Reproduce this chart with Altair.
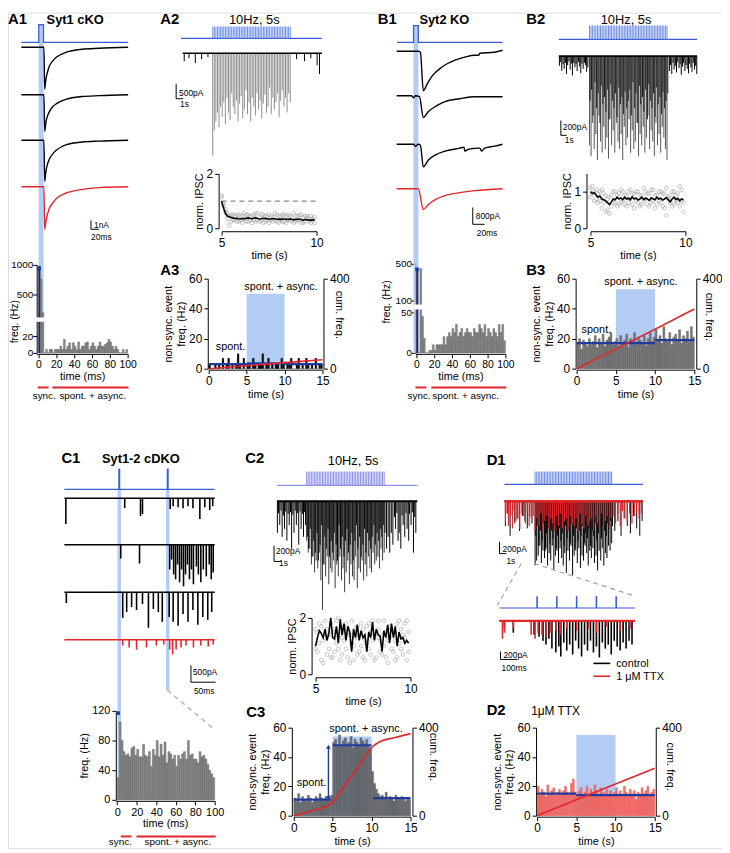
import altair as alt
import pandas as pd

W, H, M = 722, 845, 8
FONT = "Liberation Sans"
ONE = pd.DataFrame({"k": [0]})

STIM = "#3a5bd3"
PULSE = "#6d8de4"
PURP = "#8e90e8"
BAND = "#abc7f4"
RED = "#e1262c"
NAVY = "#213b9c"
BAR = "#8b8b8b"
BARE = "#505050"
TTXC = "#f26e6b"

# ------------------------------------------------------------------ data
# A1 (Syt1 cKO) traces: time (ms) vs current (nA)
A1_T = [-50, 0, 7, 9, 12, 16, 21, 30, 39, 64, 104, 146, 220]
A1_TR1 = [0, 0, 0, -4.7, -3.6, -2.8, -2.1, -1.5, -1.1, -0.55, -0.22, -0.11, 0]
A1_TR2 = [0, 0, 0, -4.1, -3.1, -2.4, -1.9, -1.3, -1.0, -0.5, -0.2, -0.1, 0]
A1_TR3 = [0, 0, 0, -4.6, -3.5, -2.7, -2.1, -1.5, -1.1, -0.5, -0.2, -0.1, 0]
A1_RED = [0, 0, 0, -4.8, -3.9, -3.1, -2.4, -1.8, -1.3, -0.7, -0.3, -0.1, 0]
A1_STIM_T = [-50, -6, -6, 6, 6, 220]
STIM_V = [0, 0, 1, 1, 0, 0]
A1_HIST = [980, 760, 290, 0, 4, 0, 4, 4, 0, 4, 4, 4, 8, 4, 16, 4, 8, 12, 4, 12,
           8, 4, 13, 4, 8, 8, 12, 13, 4, 8, 12, 8, 4, 8, 13, 8, 8, 10, 12, 16,
           13, 8, 4, 8, 4, 0, 0, 4, 0, 4]

# B1 (Syt2 KO) traces: time (ms) vs current (pA)
B1_STIM_T = [-32, -4, -4, 4, 4, 146]
B1_T1 = [-32.5, 4, 7.5, 12.5, 19, 27.5, 44, 66, 82.5, 99, 106, 107.5, 132.5, 146]
B1_TR1 = [0, 0, -47, -1880, -1550, -1175, -750, -425, -280, -190, -190, -95, -47, 47]
B1_T2 = [-32.5, -7.5, -4, -1, 6, 12.5, 21, 32.5, 49, 74, 99, 146]
B1_TR2 = [0, 0, -94, 0, -47, -1034, -752, -517, -282, -141, -47, -47]
B1_T3 = [-32.5, -4, -1, 4, 7.5, 12.5, 21, 32.5, 49, 74, 81, 82.5, 89, 107.5, 111, 116, 132.5, 146]
B1_TR3 = [0, 0, -94, 0, -47, -1081, -752, -517, -329, -188, -141, -329, -235, -188, -329, -188, -94, 0]
B1_T4 = [-32.5, 4, 12.5, 21, 32.5, 49, 74, 99, 146]
B1_RED = [0, 0, -987, -752, -517, -329, -188, -94, 0]
B1_HIST = [440, 0, 450, 45, 18, 0, 0, 3, 3, 10, 3, 10, 10, 10, 10, 20, 10, 20, 25, 20,
           30, 25, 35, 20, 25, 30, 20, 25, 30, 25, 25, 20, 30, 25, 25, 35, 30, 25, 35, 20,
           30, 25, 20, 30, 25, 20, 35, 25, 35, 15]

# C1 (Syt1-2 cDKO) events: time (ms), amplitude (pA)
C1_TR1_T = [-108, 11, 43, 47, 103, 109, 119, 129, 139, 149, 163, 173, 183, 189]
C1_TR1_A = [765, 294, 530, 470, 320, 235, 265, 294, 235, 294, 617, 265, 353, 235]
C1_TR2_T = [3, 41, 102, 106, 110, 114, 118, 122, 126, 130, 134, 138, 142, 146, 150, 156,
            160, 165, 170, 176, 182, 186, 190]
C1_TR2_A = [412, 560, 735, 441, 882, 1029, 588, 1117, 735, 1235, 882, 588, 1029, 735, 1176,
            647, 882, 1117, 735, 941, 588, 1029, 823]
C1_TR3_T = [-107, 7, 15, 25, 35, 47, 59, 69, 79, 87, 101, 109, 119, 129, 139, 149, 159, 169, 179, 187]
C1_TR3_A = [323, 764, 588, 441, 529, 353, 1058, 500, 588, 882, 735, 882, 1000, 647, 882, 529,
            970, 735, 823, 588]
C1_RED_T = [7, 20, 35, 55, 75, 90, 102, 108, 115, 125, 135, 150, 165, 180, 190]
C1_RED_A = [176, 235, 294, 235, 176, 147, 294, 441, 294, 235, 176, 235, 176, 206, 147]
C1_HIST = [30, 105, 80, 65, 60, 62, 58, 70, 72, 60, 68, 58, 58, 75, 60, 58, 65, 45, 68, 60,
           80, 58, 75, 60, 78, 50, 65, 62, 55, 60, 45, 60, 55, 62, 65, 55, 80, 60, 62, 55,
           55, 50, 65, 58, 60, 55, 48, 40, 35, 30]

# 10 Hz, 5 s trains: evoked amplitudes (pA), one per stimulus
A2_EVOKED = [3450, 2600, 2300, 2000, 2500, 1800, 2150, 1650, 2400, 1500,
             2000, 2250, 1350, 1800, 2050, 1600, 2300, 1700, 1450, 2200,
             1900, 1250, 2050, 1650, 2300, 1500, 1800, 2100, 1350, 1900,
             1600, 2200, 1700, 1400, 2000, 1800, 1150, 2050, 1500, 1900,
             1650, 1350, 2150, 1600, 1250, 1800, 1500, 2000, 1350, 1650]
A2_SPONT_T = [3.2, 3.5, 3.9, 4.3, 4.7, 10.3, 10.8, 11.2, 11.6, 11.75]
A2_SPONT_A = [270, 170, 330, 200, 130, 200, 270, 170, 400, 700]

B2_EVOKED = [1200, 1350, 900, 1250, 1050, 1400, 800, 1150, 1300, 950,
             1250, 1100, 1380, 850, 1200, 1000, 1300, 900, 1150, 1250,
             1050, 1400, 950, 1200, 1100, 850, 1300, 1000, 1250, 1150,
             900, 1350, 1050, 1200, 950, 1300, 1100, 800, 1250, 1000,
             1150, 1350, 900, 1200, 1050, 1300, 950, 1100, 1250, 1400]
B2_SPONT_T = [3.1, 3.18, 3.25, 3.33, 3.4, 3.48, 3.55, 3.62, 3.7, 3.78, 3.85, 3.92, 4.0,
              4.08, 4.15, 4.22, 4.3, 4.38, 4.45, 4.52, 4.6, 4.68, 4.75, 4.82, 4.9,
              10.05, 10.12, 10.2, 10.28, 10.35, 10.43, 10.5, 10.58, 10.66, 10.73, 10.8,
              10.88, 10.95, 11.03, 11.1, 11.18, 11.26, 11.33, 11.41, 11.48, 11.56, 11.64,
              11.71, 11.78]
B2_SPONT_A = [130, 80, 200, 110, 170, 90, 240, 120, 70, 180, 100, 260, 90, 150, 110, 200,
              80, 140, 230, 100, 170, 90, 120, 210, 150,
              200, 120, 240, 90, 180, 130, 220, 80, 160, 110, 250, 140, 90, 200, 120, 170,
              230, 100, 150, 210, 90, 180, 130, 240]
TRAIN_ASYNC_T = [5.04, 5.13, 5.23, 5.34, 5.45, 5.55, 5.66, 5.74, 5.85, 5.95, 6.04, 6.15, 6.24,
                 6.35, 6.44, 6.55, 6.65, 6.74, 6.86, 6.95, 7.05, 7.14, 7.25, 7.36, 7.45, 7.55,
                 7.64, 7.75, 7.86, 7.94, 8.05, 8.15, 8.24, 8.35, 8.44, 8.55, 8.66, 8.75, 8.84,
                 8.95, 9.05, 9.14, 9.25, 9.34, 9.45, 9.56, 9.65, 9.75, 9.84, 9.95]
B2_ASYNC_A = [600, 450, 800, 350, 700, 500, 900, 400, 650, 550, 750, 450, 850, 380, 600,
              700, 500, 820, 420, 650, 550, 780, 480, 700, 600, 450, 800, 350, 700, 500,
              900, 400, 650, 550, 750, 450, 850, 380, 600, 700, 500, 820, 420, 650, 550,
              780, 480, 700, 600, 500]

C2_EVOKED = [500, 650, 600, 800, 700, 900, 750, 850, 650, 1000,
             1375, 800, 950, 700, 1050, 850, 900, 750, 1100, 800,
             950, 700, 1000, 850, 1150, 900, 750, 1050, 800, 950,
             1000, 700, 1100, 850, 900, 750, 1000, 800, 950, 700,
             850, 900, 650, 800, 750, 700, 850, 600, 750, 650]
C2_ASYNC_A = [450, 600, 350, 700, 500, 650, 400, 750, 550, 300, 800, 450, 600, 350, 700,
              500, 650, 400, 550, 750, 300, 600, 450, 700, 500, 350, 650, 550, 400, 750,
              500, 300, 600, 450, 700, 550, 350, 650, 400, 500, 600, 450, 300, 550, 400,
              500, 350, 450, 300, 400]
C2_SPONT_T = [3.15, 3.22, 3.3, 3.38, 3.45, 3.53, 3.6, 3.68, 3.75, 3.83, 3.9, 3.98, 4.05,
              4.13, 4.2, 4.28, 4.35, 4.43, 4.5, 4.58, 4.65, 4.73, 4.8, 4.87, 4.93,
              10.05, 10.15, 10.25, 10.35, 10.45, 10.55, 10.62, 10.7, 10.78, 10.85, 10.95,
              11.03, 11.1, 11.2, 11.28, 11.35, 11.45, 11.5, 11.6, 11.68, 11.75, 11.83, 11.9]
C2_SPONT_A = [400, 150, 300, 120, 450, 180, 350, 130, 500, 160, 300, 140, 600, 170, 400,
              120, 300, 150, 550, 130, 350, 160, 450, 140, 300,
              600, 450, 650, 400, 550, 200, 350, 150, 500, 400, 600, 180, 300, 450, 150,
              350, 500, 160, 300, 140, 650, 200, 400]

D1_EVOKED = [1300, 1200, 1100, 900, 1250, 1000, 1150, 950, 1300, 1050,
             1200, 900, 1400, 1100, 1000, 1250, 950, 1150, 1300, 1050,
             1450, 1000, 1200, 900, 1500, 1100, 1000, 1250, 950, 1350,
             1100, 1200, 900, 1050, 1300, 1000, 1150, 950, 1250, 1100,
             1400, 1000, 1200, 950, 1300, 1050, 1150, 900, 1000, 850]
D1_ASYNC_A = [700, 500, 900, 600, 800, 450, 1000, 650, 550, 850, 600, 750, 500, 950, 700,
              550, 800, 650, 900, 500, 750, 600, 850, 450, 700, 950, 550, 800, 600, 700,
              500, 850, 650, 750, 550, 900, 600, 700, 450, 800, 650, 550, 750, 500, 600,
              700, 450, 550, 400, 500]
D1_SPONT_T = [3.1, 3.25, 3.4, 3.55, 3.7, 3.85, 4.0, 4.2, 4.35, 4.5, 4.65, 4.8,
              10.1, 10.3, 10.5, 10.7, 10.9, 11.1, 11.3, 11.5, 11.7, 11.85]
D1_SPONT_A = [500, 250, 700, 300, 450, 350, 600, 300, 400, 550, 300, 450,
              600, 400, 700, 350, 500, 650, 300, 550, 700, 400]
D1_TTX_T = [3.1, 3.2, 3.3, 3.42, 3.55, 3.65, 3.78, 3.9, 4.02, 4.15, 4.25, 4.38, 4.5, 4.62,
            4.75, 4.88, 5.0, 5.12, 5.25, 5.38, 5.5, 5.62, 5.75, 5.88, 6.0, 6.12, 6.25, 6.38,
            6.5, 6.62, 6.75, 6.88, 7.0, 7.12, 7.25, 7.38, 7.5, 7.62, 7.75, 7.88, 8.0, 8.12,
            8.25, 8.38, 8.5, 8.62, 8.75, 8.88, 9.0, 9.12, 9.25, 9.38, 9.5, 9.62, 9.75, 9.88,
            10.0, 10.15, 10.3, 10.45, 10.6, 10.75, 10.9, 11.05, 11.2, 11.35, 11.5, 11.65, 11.8]
D1_TTX_A = [450, 250, 500, 300, 550, 200, 400, 350, 560, 250, 300, 450, 200, 500, 350, 300,
            600, 350, 500, 250, 620, 400, 300, 550, 350, 450, 600, 300, 500, 250, 550, 400,
            350, 600, 300, 450, 500, 350, 600, 250, 450, 550, 300, 500, 400, 350, 600, 300,
            450, 550, 250, 500, 400, 300, 550, 350,
            300, 450, 250, 500, 200, 350, 400, 250, 450, 300, 200, 350, 250]
# D1 expanded view: time (ms) from first stimulus, amplitude (pA)
D1Z_CTRL_T = [-165, -120, -15, 10, 30, 45, 60, 75, 95, 110, 120, 135, 150, 165, 180, 195,
              210, 225, 240, 255, 270, 285, 300, 315, 330, 345, 360, 375, 390, 405, 420,
              435, 450, 465, 480]
D1Z_CTRL_A = [200, 300, 350, 400, 500, 600, 450, 700, 800, 650, 900, 550, 750, 600, 850,
              500, 700, 900, 600, 750, 500, 800, 650, 925, 550, 700, 600, 850, 500, 650,
              750, 550, 700, 500, 600]
D1Z_TTX_T = [-175, -165, -120, -30, -10, 5, 25, 45, 70, 95, 120, 150, 200, 260, 300, 350, 420, 470]
D1Z_TTX_A = [450, 300, 200, 350, 450, 300, 350, 400, 300, 250, 350, 200, 250, 200, 300, 150, 250, 200]

# normalised IPSC (one value per stimulus, 5-10 s)
A2_MEAN = [1.0, 0.75, 0.55, 0.45, 0.42, 0.40, 0.38, 0.36, 0.37, 0.35, 0.34, 0.36, 0.35,
           0.37, 0.38, 0.36, 0.35, 0.37, 0.39, 0.36, 0.34, 0.35, 0.37, 0.36, 0.35, 0.33,
           0.34, 0.36, 0.35, 0.33, 0.34, 0.32, 0.35, 0.34, 0.33, 0.32, 0.34, 0.33, 0.31,
           0.33, 0.32, 0.34, 0.31, 0.30, 0.32, 0.31, 0.30, 0.29, 0.31, 0.30]
A2_S1 = [1.15, 0.9, 0.6, 0.55, 0.45, 0.5, 0.3, 0.45, 0.25, 0.5, 0.3, 0.45, 0.55, 0.25, 0.5,
         0.3, 0.45, 0.5, 0.25, 0.55, 0.4, 0.3, 0.5, 0.25, 0.45, 0.5, 0.3, 0.4, 0.55, 0.25,
         0.45, 0.3, 0.5, 0.25, 0.45, 0.5, 0.3, 0.4, 0.55, 0.25, 0.45, 0.3, 0.5, 0.2, 0.45,
         0.35, 0.25, 0.45, 0.35, 0.2]
A2_S2 = [1.2, 0.85, 0.7, 0.35, 0.1, 0.25, 0.5, 0.3, 0.5, 0.25, 0.45, 0.2, 0.35, 0.5, 0.25,
         0.45, 0.2, 0.3, 0.55, 0.3, 0.25, 0.5, 0.2, 0.45, 0.3, 0.2, 0.45, 0.25, 0.3, 0.5,
         0.2, 0.45, 0.25, 0.5, 0.2, 0.3, 0.45, 0.25, 0.2, 0.45, 0.3, 0.5, 0.2, 0.4, 0.25,
         0.45, 0.4, 0.2, 0.3, 0.4]
B2_MEAN = [1.0, 0.95, 0.97, 0.9, 0.85, 0.88, 0.8, 0.78, 0.75, 0.7, 0.65, 0.72, 0.8, 0.78,
           0.85, 0.8, 0.83, 0.78, 0.85, 0.8, 0.82, 0.78, 0.86, 0.8, 0.83, 0.77, 0.8, 0.85,
           0.78, 0.82, 0.8, 0.76, 0.83, 0.8, 0.78, 0.85, 0.8, 0.82, 0.77, 0.8, 0.84, 0.78,
           0.72, 0.8, 0.85, 0.78, 0.82, 0.75, 0.8, 0.78]
B2_S1 = [1.1, 0.95, 1.0, 0.8, 0.95, 0.75, 1.05, 0.7, 0.9, 0.5, 0.85, 0.6, 1.0, 0.7, 0.9,
         0.65, 1.05, 0.75, 0.9, 0.6, 1.0, 0.8, 0.95, 0.55, 1.0, 0.7, 0.9, 0.65, 1.1, 0.8,
         0.95, 0.6, 1.05, 0.75, 0.9, 0.65, 1.0, 0.7, 0.95, 0.55, 1.1, 0.8, 0.9, 0.6, 1.0,
         0.75, 0.95, 0.6, 1.05, 0.7]
B2_S2 = [0.85, 1.15, 0.75, 1.05, 0.7, 1.0, 0.55, 0.95, 0.45, 0.8, 0.4, 0.9, 0.7, 1.0, 0.6,
         0.95, 0.7, 1.0, 0.65, 0.9, 0.7, 1.05, 0.65, 0.95, 0.75, 1.0, 0.6, 0.9, 0.75, 1.0,
         0.65, 0.95, 0.7, 1.05, 0.55, 0.9, 0.75, 1.0, 0.6, 0.95, 0.35, 0.85, 0.7, 1.0, 0.65,
         0.9, 0.7, 1.15, 0.75, 0.45]
C2_MEAN = [1.0, 1.3, 1.55, 1.45, 1.3, 1.6, 1.2, 1.45, 2.0, 1.3, 1.25, 1.7, 1.1, 1.95, 1.4,
           1.8, 1.2, 1.7, 1.5, 0.8, 1.6, 1.3, 1.75, 1.2, 1.55, 1.3, 1.4, 0.8, 1.5, 1.3, 1.85,
           1.2, 1.6, 1.4, 1.35, 0.8, 1.55, 1.3, 1.75, 1.1, 1.8, 1.3, 1.7, 1.0, 1.5, 1.25,
           1.3, 1.1, 1.2, 1.1]
C2_S1 = [0.9, 1.5, 1.8, 0.5, 1.2, 1.9, 0.7, 1.4, 1.8, 0.6, 1.6, 1.1, 2.0, 0.5, 1.3, 1.7,
         0.9, 1.5, 0.4, 1.9, 1.0, 1.6, 0.7, 1.4, 1.8, 0.6, 1.2, 1.7, 0.9, 1.5, 1.9, 0.5, 1.3,
         1.6, 0.8, 1.4, 1.9, 0.6, 1.2, 1.7, 0.9, 1.5, 0.5, 1.8, 1.1, 1.6, 0.7, 1.3, 1.9, 0.8]
C2_S2 = [1.6, 0.8, 1.1, 1.7, 0.4, 1.3, 1.6, 0.9, 0.6, 1.5, 0.8, 1.9, 0.9, 1.4, 0.7, 1.2,
         1.8, 0.6, 1.4, 1.1, 0.5, 1.3, 1.7, 0.8, 1.0, 1.6, 0.5, 1.1, 1.8, 0.7, 1.2, 1.4, 0.6,
         1.9, 1.2, 0.7, 1.0, 1.5, 0.4, 1.3, 1.6, 0.8, 1.2, 0.6, 1.9, 0.9, 1.4, 1.8, 0.5, 1.5]

# non-synchronous event frequency (Hz), 0.25 s bins over 0-15 s
A3_HIST = [3, 0, 0, 3, 0, 3, 0, 7, 0, 3, 7, 0, 3, 0, 3, 10, 3, 0, 7, 0,
           3, 3, 0, 7, 3, 0, 3, 3, 10, 0, 3, 7, 0, 3, 0, 3, 3, 0, 7, 3,
           0, 3, 3, 7, 0, 0, 3, 7, 0, 3, 0, 7, 3, 0, 3, 0, 7, 0, 3, 3]
B3_HIST = [17, 20, 13, 19, 17, 15, 20, 16, 18, 22, 14, 20, 17, 23, 15, 19, 21, 24, 16, 18,
           20, 15, 22, 17, 19, 23, 14, 20, 18, 24, 16, 21, 19, 17, 22, 15, 20, 24, 18, 21,
           26, 19, 22, 17, 28, 20, 18, 24, 16, 21, 23, 19, 26, 17, 22, 20, 25, 18, 28, 21]
C3_HIST = [12, 10, 15, 9, 13, 11, 10, 14, 12, 9, 11, 13, 10, 15, 12, 10, 13, 11, 12, 14,
           50, 52, 48, 55, 47, 51, 53, 49, 50, 54, 46, 52, 50, 48, 53, 51, 49, 52, 47, 46,
           30, 22, 18, 15, 13, 14, 12, 16, 11, 13, 12, 10, 14, 12, 11, 13, 12, 10, 12, 11]
D2_HIST = [20, 14, 18, 16, 13, 21, 15, 17, 19, 14, 16, 18, 15, 17, 20, 16, 14, 22, 25, 16,
           14, 17, 19, 13, 16, 20, 15, 18, 14, 21, 17, 13, 19, 16, 15, 18, 14, 17, 13, 16,
           19, 15, 17, 14, 20, 16, 13, 18, 15, 17, 11, 16, 14, 19, 15, 17, 20, 14, 16, 18]
# mean levels (start s, end s, Hz)
A3_LEVELS = [(0, 5, 3), (5, 10, 3.5), (10, 15, 3)]
B3_LEVELS = [(0, 5, 17), (5, 10, 17), (10, 15, 19)]
C3_LEVELS = [(0, 4.7, 11), (5, 10, 48), (10.2, 15, 12)]
D2_LEVELS = [(0, 5, 15), (5, 15, 14)]
# cumulative frequency (time s, count)
A3_CUM_T, A3_CUM = [0, 5, 10, 15], [0, 13, 27, 40]
B3_CUM_T, B3_CUM = [0, 5, 10, 15], [0, 88, 175, 265]
C3_CUM_T = [0, 2.5, 4.8, 6, 7.5, 9, 10, 11, 13, 15]
C3_CUM = [0, 25, 55, 110, 185, 260, 310, 335, 355, 373]
D2_CUM_T, D2_CUM = [0, 5, 10, 15], [0, 72, 144, 216]
TRAIN_TOP = {"A3": 50, "B3": 53, "C3": 54, "D2": 55}

PULSES = [round(5 + 0.1 * k, 2) for k in range(50)]   # 10 Hz, 5 s protocol

# ------------------------------------------------------------------ helpers
layers = []


def S(dom, rng):
    return alt.Scale(domain=list(dom), range=[r - M for r in rng], nice=False, zero=False)


def AX(orient, pos, values, title=None, lab=12, tpad=2, tx=None, ty=None, lpad=2, tsize=11):
    if orient == "left":
        off = -(pos - M)
    elif orient == "right":
        off = (pos - M) - W
    else:
        off = (pos - M) - H
    d = dict(orient=orient, offset=off, values=values, title=title, grid=False, format="d",
             labelFlush=False, labelOverlap=False, tickSize=4, tickColor="black",
             domainColor="black", labelColor="black", titleColor="black",
             labelFontSize=lab, titleFontSize=tsize, labelFont=FONT, titleFont=FONT,
             titleFontWeight="normal", labelPadding=lpad, titlePadding=tpad,
             tickWidth=1, domainWidth=1)
    if tx is not None:
        d["titleX"] = tx - pos
    if ty is not None:
        d["titleY"] = ty - M
    return alt.Axis(**d)


def ex(sc, ax=None):
    return alt.X("t:Q", scale=sc, axis=ax)


def ey(sc, ax=None):
    return alt.Y("v:Q", scale=sc, axis=ax)


def carrier(xs, ys, ax=None, ay=None):
    df = pd.DataFrame({"t": [xs.domain[0]], "v": [ys.domain[0]]})
    return alt.Chart(df).mark_point(opacity=0, size=1).encode(x=ex(xs, ax), y=ey(ys, ay))


def txt(s, x, y, size=11, weight="normal", align="left", color="black"):
    return alt.Chart(ONE).mark_text(text=s, fontSize=size, fontWeight=weight, align=align,
                                    baseline="alphabetic", font=FONT, color=color).encode(
        x=alt.value(x - M), y=alt.value(y - M))


def line(T, V, xs, ys, color="black", sw=1.3, interp="monotone", ax=None, ay=None):
    df = pd.DataFrame({"t": T, "v": V, "i": list(range(len(T)))})
    return alt.Chart(df).mark_line(color=color, strokeWidth=sw, interpolate=interp).encode(
        x=ex(xs, ax), y=ey(ys, ay), order="i:Q")


def hrule(t0, t1, v, xs, ys, color="black", sw=1.2, dash=None):
    df = pd.DataFrame({"t": [t0], "t2": [t1], "v": [v]})
    mk = dict(color=color, strokeWidth=sw)
    if dash:
        mk["strokeDash"] = dash
    return alt.Chart(df).mark_rule(**mk).encode(x=ex(xs), x2="t2:Q", y=ey(ys))


def seg(t0, v0, t1, v1, xs, ys, color="black", sw=1.0, dash=None):
    df = pd.DataFrame({"t": [t0], "t2": [t1], "v": [v0], "v2": [v1]})
    mk = dict(color=color, strokeWidth=sw)
    if dash:
        mk["strokeDash"] = dash
    return alt.Chart(df).mark_rule(**mk).encode(x=ex(xs), x2="t2:Q", y=ey(ys), y2="v2:Q")


def spikes(T, A, xs, ys, color="black", sw=1.0, up=False):
    df = pd.DataFrame({"t": T, "a": A})
    df["v"] = 0.0
    df["v2"] = [a if up else -a for a in A]
    return alt.Chart(df).mark_rule(color=color, strokeWidth=sw).encode(
        x=ex(xs), y=ey(ys), y2="v2:Q")


def box(t0, t1, v0, v1, xs, ys, color, opacity=1.0):
    df = pd.DataFrame({"t": [t0], "t2": [t1], "v": [v0], "v2": [v1]})
    return alt.Chart(df).mark_rect(color=color, opacity=opacity).encode(
        x=ex(xs), x2="t2:Q", y=ey(ys), y2="v2:Q")


def bars(start, width, vals, xs, ys, fill, stroke, sw=0.4):
    df = pd.DataFrame({"t": [start + i * width for i in range(len(vals))], "v": vals})
    df["t2"] = df["t"] + width
    df["v2"] = 0
    return alt.Chart(df).mark_rect(color=fill, stroke=stroke, strokeWidth=sw).encode(
        x=ex(xs), x2="t2:Q", y=ey(ys), y2="v2:Q")


def marker(t, v, xs, ys):
    df = pd.DataFrame({"t": [t], "v": [v]})
    return alt.Chart(df).mark_square(color=NAVY, size=14, opacity=1).encode(x=ex(xs), y=ey(ys))


def xrange_rule(t0, t1, ypage, xs, color=RED, sw=2):
    df = pd.DataFrame({"t": [t0], "t2": [t1]})
    return alt.Chart(df).mark_rule(color=color, strokeWidth=sw).encode(
        x=ex(xs), x2="t2:Q", y=alt.value(ypage - M))


NSE = ["non-sync. event", "freq. (Hz)"]
MS_TICKS = [0, 20, 40, 60, 80, 100]

# ------------------------------------------------------------------ A1
a1x = S([0, 20], [41.5, 49.5])
a1s = S([0, 1], [38, 20])
layers.append(box(-6.2, 6.2, 1, -17.5, a1x, a1s, BAND, 0.9))
layers.append(line(A1_STIM_T, STIM_V, a1x, a1s, STIM, 1.3, "linear"))
for base, tr, col in [(43, A1_TR1, "black"), (91, A1_TR2, "black"),
                      (137, A1_TR3, "black"), (184, A1_RED, RED)]:
    ys = S([-1, 0], [base + 9, base])
    layers.append(line(A1_T, tr, a1x, ys, col, 1.4))
a1r = S([-1, 0], [193, 184])
layers.append(alt.layer(hrule(126, 146, -4.78, a1x, a1r, "black", 1),
                        seg(126, -3.78, 126, -4.78, a1x, a1r, "black", 1)))
layers.append(txt("1nA", 95, 226, 8.5))
layers.append(txt("20ms", 92, 238, 8.5))

a1hx = S([-2, 100], [37, 129])
a1hy = S([0, 20, 500, 1000], [352, 335, 293, 263])
layers.append(carrier(a1hx, a1hy,
                      AX("bottom", 353, MS_TICKS, "time (ms)", lab=10.5, tpad=0),
                      AX("left", 37, [0, 20, 500, 1000], "freq. (Hz)", lab=10, lpad=0,
                         tx=19.5, ty=320, tsize=10.5)))
layers.append(alt.layer(
    bars(0, 2, A1_HIST[:1], a1hx, a1hy, "#23284f", "#23284f"),
    bars(2, 2, A1_HIST[1:], a1hx, a1hy, BAR, BARE),
    box(-3, 7, 185, 235, a1hx, a1hy, "white"),
    marker(0.8, 940, a1hx, a1hy),
    xrange_rule(-0.9, 11.3, 387, a1hx),
    xrange_rule(15.7, 101, 387, a1hx),
))
layers.append(txt("sync.", 33, 399, 10))
layers.append(txt("spont. + async.", 60, 399, 10))
layers.append(txt("A1", 8, 19, 15, "bold"))
layers.append(txt("Syt1 cKO", 47, 19, 13, "bold"))

# ------------------------------------------------------------------ A2
a2x = S([5, 10], [215, 295])
a2s = S([0, 1], [34, 22])
a2y = S([-500, 0], [64, 49])
layers.append(alt.layer(
    hrule(3.0, 11.9, 0, a2x, a2s, STIM, 1.2),
    spikes(PULSES, [1] * 50, a2x, a2s, PULSE, 1.0, up=True),
))
layers.append(alt.layer(
    spikes(PULSES, A2_EVOKED, a2x, a2y, "#8d8d8d", 1.0),
    spikes(A2_SPONT_T, A2_SPONT_A, a2x, a2y, "black", 1.0),
    hrule(3.1, 11.9, 0, a2x, a2y, "black", 1.6),
    seg(2.69, -1033, 2.69, -1533, a2x, a2y, "black", 1),
    hrule(2.69, 3.13, -1533, a2x, a2y, "black", 1),
))
layers.append(txt("500pA", 181, 92, 8.5))
layers.append(txt("1s", 182, 103, 8.5))
layers.append(txt("A2", 162, 19, 15, "bold"))
layers.append(txt("10Hz, 5s", 257, 19, 13, align="center"))

a2nx = S([5, 10], [224, 320])
a2ny = S([0, 2], [226, 171])
layers.append(carrier(a2nx, a2ny, AX("bottom", 229, [5, 10], "time (s)"),
                      AX("left", 221, [0, 1, 2], "norm. IPSC")))
sc_df = pd.DataFrame({"t": PULSES + PULSES, "v": A2_S1 + A2_S2})
layers.append(alt.layer(
    alt.Chart(sc_df).mark_point(shape="circle", size=14, color="#9a9a9a", strokeWidth=0.8).encode(
        x=ex(a2nx), y=ey(a2ny)),
    hrule(5, 10, 1, a2nx, a2ny, "#8a8a8a", 1.2, [5, 4]),
    line(PULSES, A2_MEAN, a2nx, a2ny, "black", 1.6, "linear"),
))

# A3
a3x = S([0, 15], [211, 326])
a3y = S([0, 60], [368, 277])
a3c = S([0, 400], [368, 277])
layers.append(carrier(a3x, a3y, AX("bottom", 369, [0, 5, 10, 15], "time (s)"),
                      AX("left", 210, [0, 20, 40, 60], NSE)))
layers.append(alt.layer(
    box(5, 10, 0, TRAIN_TOP["A3"], a3x, a3y, BAND, 0.9),
    bars(0, 0.25, A3_HIST, a3x, a3y, "black", "black", 0.2),
    *[hrule(a, b, v, a3x, a3y, NAVY, 2.2) for a, b, v in A3_LEVELS],
))
layers.append(line(A3_CUM_T, A3_CUM, a3x, a3c, RED, 1.6, "linear",
                   ay=AX("right", 327, [0, 400], "cum. freq.", tx=337, ty=313)))
layers.append(txt("A3", 162, 273, 15, "bold"))
layers.append(txt("spont. + async.", 284, 288, 11, align="center"))
layers.append(txt("spont.", 233, 349, 11, align="center"))

# ------------------------------------------------------------------ B1
b1x = S([0, 100], [420.5, 480.5])
b1s = S([0, 1], [38, 21])
layers.append(box(-4.2, 4.2, 1, -18.5, b1x, b1s, BAND, 0.9))
layers.append(line(B1_STIM_T, STIM_V, b1x, b1s, STIM, 1.3, "linear"))
for base, T, tr, col in [(47, B1_T1, B1_TR1, "black"), (92, B1_T2, B1_TR2, "black"),
                         (141, B1_T3, B1_TR3, "black"), (186, B1_T4, B1_RED, RED)]:
    ys = S([-800, 0], [base + 17, base])
    layers.append(line(T, tr, b1x, ys, col, 1.4))
b1r = S([-800, 0], [203, 186])
layers.append(alt.layer(hrule(95.8, 115.8, -1694, b1x, b1r, "black", 1),
                        seg(95.8, -894, 95.8, -1694, b1x, b1r, "black", 1)))
layers.append(txt("800pA", 481, 217, 8.5))
layers.append(txt("20ms", 482, 234, 8.5))

b1hx = S([-1, 100], [420, 511])
b1hy = S([0, 50, 100, 500], [352, 311, 299, 262])
layers.append(carrier(b1hx, b1hy,
                      AX("bottom", 353, MS_TICKS, "time (ms)", lab=10.5, tpad=0),
                      AX("left", 420, [0, 50, 100, 500], "freq. (Hz)", lab=10, lpad=0,
                         tx=396, ty=300, tsize=10.5)))
layers.append(alt.layer(
    bars(0, 2, B1_HIST[:1], b1hx, b1hy, "#23284f", "#23284f"),
    bars(2, 2, B1_HIST[1:], b1hx, b1hy, BAR, BARE),
    box(-3, 10, 62, 83, b1hx, b1hy, "white"),
    marker(0.8, 440, b1hx, b1hy),
    xrange_rule(-1, 11.2, 387, b1hx),
    xrange_rule(16.8, 101, 387, b1hx),
))
layers.append(txt("sync.", 412, 399, 10))
layers.append(txt("spont. + async.", 437, 399, 10))
layers.append(txt("B1", 382, 19, 15, "bold"))
layers.append(txt("Syt2 KO", 424, 19, 13, "bold"))

# ------------------------------------------------------------------ B2
b2x = S([5, 10], [596, 676])
b2s = S([0, 1], [35, 21])
b2y = S([-200, 0], [67, 52])
layers.append(alt.layer(
    hrule(3.06, 11.8, 0, b2x, b2s, STIM, 1.2),
    spikes(PULSES, [1] * 50, b2x, b2s, PULSE, 1.0, up=True),
))
layers.append(alt.layer(
    spikes(PULSES, B2_EVOKED, b2x, b2y, "#555555", 1.0),
    spikes(TRAIN_ASYNC_T, B2_ASYNC_A, b2x, b2y, "#1a1a1a", 1.0),
    spikes(B2_SPONT_T, B2_SPONT_A, b2x, b2y, "black", 1.0),
    hrule(3.06, 11.8, 0, b2x, b2y, "black", 1.8),
    seg(3.19, -867, 3.19, -1067, b2x, b2y, "black", 1),
    hrule(3.19, 3.56, -1067, b2x, b2y, "black", 1),
))
layers.append(txt("200pA", 569, 127, 8.5))
layers.append(txt("1s", 571, 140, 8.5))
layers.append(txt("B2", 532, 19, 15, "bold"))
layers.append(txt("10Hz, 5s", 633, 19, 13, align="center"))

b2nx = S([5, 10], [597, 693])
b2ny = S([0, 1.5], [226, 170.5])
layers.append(carrier(b2nx, b2ny, AX("bottom", 229, [5, 10], "time (s)"),
                      AX("left", 593, [0, 1], "norm. IPSC")))
sc_df = pd.DataFrame({"t": PULSES + PULSES, "v": B2_S1 + B2_S2})
layers.append(alt.layer(
    alt.Chart(sc_df).mark_point(shape="circle", size=14, color="#9a9a9a", strokeWidth=0.8).encode(
        x=ex(b2nx), y=ey(b2ny)),
    line(PULSES, B2_MEAN, b2nx, b2ny, "black", 1.6, "linear"),
))

b3x = S([0, 15], [583, 702])
b3y = S([0, 60], [368, 277])
b3c = S([0, 400], [368, 277])
layers.append(carrier(b3x, b3y, AX("bottom", 369, [0, 5, 10, 15], "time (s)"),
                      AX("left", 582, [0, 20, 40, 60], NSE)))
layers.append(alt.layer(
    box(5, 10, 0, TRAIN_TOP["B3"], b3x, b3y, BAND, 0.9),
    bars(0, 0.25, B3_HIST, b3x, b3y, "#7d7d7d", "#4a4a4a"),
    *[hrule(a, b, v, b3x, b3y, NAVY, 2.2) for a, b, v in B3_LEVELS],
))
layers.append(line(B3_CUM_T, B3_CUM, b3x, b3c, RED, 1.6, "linear",
                   ay=AX("right", 704, [0, 400], "cum. freq.", tx=711, ty=315)))
layers.append(txt("B3", 532, 273, 15, "bold"))
layers.append(txt("spont. + async.", 648, 283, 11, align="center"))
layers.append(txt("spont.", 603, 332, 11, align="center"))

# ------------------------------------------------------------------ C1
c1x = S([0, 100], [120.5, 170.5])
c1s = S([0, 1], [490, 469])
layers.append(box(-3.5, 3.5, 0, -14.95, c1x, c1s, BAND, 0.9))
layers.append(box(94.5, 101.5, 0, -9.67, c1x, c1s, BAND, 0.9))
layers.append(alt.layer(
    hrule(-111, 193, 0, c1x, c1s, STIM, 1.3),
    spikes([0, 98], [1, 1], c1x, c1s, STIM, 2.0, up=True),
))
for base, T, A, col in [(499, C1_TR1_T, C1_TR1_A, "black"), (546, C1_TR2_T, C1_TR2_A, "black"),
                        (594, C1_TR3_T, C1_TR3_A, "black"), (642, C1_RED_T, C1_RED_A, RED)]:
    ys = S([-500, 0], [base + 17, base])
    layers.append(alt.layer(
        hrule(-111, 193, 0, c1x, ys, col, 1.5),
        spikes(T, A, c1x, ys, col, 1.6),
    ))
c1r = S([-500, 0], [659, 642])
layers.append(alt.layer(hrule(145, 195, -1265, c1x, c1r, "black", 1),
                        seg(145, -765, 145, -1265, c1x, c1r, "black", 1)))
layers.append(txt("500pA", 195, 678, 8.5))
layers.append(txt("50ms", 196, 697, 8.5))

c1hx = S([-1.5, 100], [117, 217])
c1hy = S([0, 120], [804, 714])
layers.append(carrier(c1hx, c1hy,
                      AX("bottom", 805, MS_TICKS, "time (ms)", lab=11, tpad=0),
                      AX("left", 117, [0, 40, 80, 120], "freq. (Hz)", lab=11)))
layers.append(alt.layer(
    bars(0, 2, C1_HIST, c1hx, c1hy, BAR, BARE),
    marker(0.8, 117, c1hx, c1hy),
    seg(51.3, 148, 100, 94.7, c1hx, c1hy, "#b5b5b5", 1.5, [5, 4]),
    xrange_rule(3.6, 14.7, 841, c1hx),
    xrange_rule(19.8, 101, 841, c1hx),
))
layers.append(txt("sync.", 110, 850, 10))
layers.append(txt("spont. + async.", 146, 850, 10))
layers.append(txt("C1", 62, 463, 15, "bold"))
layers.append(txt("Syt1-2 cDKO", 103, 463, 13, "bold"))

# ------------------------------------------------------------------ C2
c2x = S([5, 10], [310, 390])
c2s = S([0, 1], [486, 472])
c2y = S([-200, 0], [518, 502])
layers.append(alt.layer(
    hrule(3.12, 12.0, 0, c2x, c2s, PURP, 1.2),
    spikes(PULSES, [1] * 50, c2x, c2s, PURP, 1.0, up=True),
))
layers.append(alt.layer(
    spikes(PULSES, C2_EVOKED, c2x, c2y, "#3a3a3a", 1.0),
    spikes(TRAIN_ASYNC_T, C2_ASYNC_A, c2x, c2y, "black", 1.0),
    spikes(C2_SPONT_T, C2_SPONT_A, c2x, c2y, "black", 1.0),
    hrule(3.12, 12.0, 0, c2x, c2y, "black", 2.0),
    seg(2.94, -562, 2.94, -762, c2x, c2y, "black", 1),
    hrule(2.94, 3.375, -762, c2x, c2y, "black", 1),
))
layers.append(txt("200pA", 279, 555, 8.5))
layers.append(txt("1s", 282, 568, 8.5))
layers.append(txt("C2", 248, 463, 15, "bold"))
layers.append(txt("10Hz, 5s", 357, 465, 13, align="center"))

c2nx = S([5, 10], [319, 415])
c2ny = S([0, 2], [677, 620])
layers.append(carrier(c2nx, c2ny, AX("bottom", 680, [5, 10], "time (s)"),
                      AX("left", 315, [0, 1, 2], "norm. IPSC")))
sc_df = pd.DataFrame({"t": PULSES + PULSES, "v": C2_S1 + C2_S2})
layers.append(alt.layer(
    alt.Chart(sc_df).mark_point(shape="circle", size=14, color="#9a9a9a", strokeWidth=0.8).encode(
        x=ex(c2nx), y=ey(c2ny)),
    line(PULSES, C2_MEAN, c2nx, c2ny, "black", 1.6, "linear"),
))

c3x = S([0, 15], [297, 415])
c3y = S([0, 60], [820, 731])
c3c = S([0, 400], [820, 731])
layers.append(carrier(c3x, c3y, AX("bottom", 821, [0, 5, 10, 15], "time (s)"),
                      AX("left", 295, [0, 20, 40, 60], NSE)))
layers.append(alt.layer(
    box(5, 10, 0, TRAIN_TOP["C3"], c3x, c3y, BAND, 0.9),
    bars(0, 0.25, C3_HIST, c3x, c3y, "#6f7277", "#45474d"),
    *[hrule(a, b, v, c3x, c3y, NAVY, 2.2) for a, b, v in C3_LEVELS],
    seg(4.45, 12, 4.45, 47, c3x, c3y, NAVY, 1.4),
    alt.Chart(pd.DataFrame({"t": [4.45], "v": [47]})).mark_point(
        shape="triangle-up", filled=True, size=22, color=NAVY, opacity=1).encode(x=ex(c3x), y=ey(c3y)),
    alt.Chart(pd.DataFrame({"t": [4.45], "v": [12]})).mark_point(
        shape="triangle-down", filled=True, size=22, color=NAVY, opacity=1).encode(x=ex(c3x), y=ey(c3y)),
))
layers.append(line(C3_CUM_T, C3_CUM, c3x, c3c, RED, 1.6, "monotone",
                   ay=AX("right", 417, [0, 400], "cum. freq.", tx=432, ty=760)))
layers.append(txt("C3", 249, 720, 15, "bold"))
layers.append(txt("spont. + async.", 370, 735, 11, align="center"))
layers.append(txt("spont.", 315, 790, 11, align="center"))

# ------------------------------------------------------------------ D1
d1x = S([5, 10], [541, 620])
d1s = S([0, 1], [485, 472])
d1y = S([-200, 0], [512, 502])
layers.append(alt.layer(
    hrule(3.04, 11.9, 0, d1x, d1s, STIM, 1.2),
    spikes(PULSES, [1] * 50, d1x, d1s, PULSE, 1.0, up=True),
))
layers.append(alt.layer(
    spikes(PULSES, D1_EVOKED, d1x, d1y, "black", 1.0),
    spikes(TRAIN_ASYNC_T, D1_ASYNC_A, d1x, d1y, "black", 1.0),
    spikes(D1_SPONT_T, D1_SPONT_A, d1x, d1y, "black", 1.0),
    hrule(3.04, 11.9, 0, d1x, d1y, "black", 2.0),
    spikes(D1_TTX_T, D1_TTX_A, d1x, d1y, RED, 1.2),
    hrule(3.04, 11.9, 0, d1x, d1y, RED, 2.4),
    seg(2.72, -820, 2.72, -1060, d1x, d1y, "black", 1),
    hrule(2.72, 3.16, -1060, d1x, d1y, "black", 1),
))
layers.append(txt("200pA", 508, 553, 8.5))
layers.append(txt("1s", 512, 566, 8.5))
layers.append(txt("D1", 492, 465, 15, "bold"))

d1zx = S([0, 100], [543, 563])
d1zs = S([0, 1], [610, 598])
d1zy = S([-200, 0], [631, 623])
layers.append(alt.layer(
    hrule(-190, 495, 0, d1zx, d1zs, STIM, 1.2),
    spikes([0, 100, 200, 300, 400], [1] * 5, d1zx, d1zs, STIM, 1.6, up=True),
))
layers.append(alt.layer(
    spikes(D1Z_CTRL_T, D1Z_CTRL_A, d1zx, d1zy, "black", 1.6),
    hrule(-190, 495, 0, d1zx, d1zy, "black", 2.0),
    spikes(D1Z_TTX_T, D1Z_TTX_A, d1zx, d1zy, RED, 1.6),
    hrule(-190, 495, 0, d1zx, d1zy, RED, 2.2),
    seg(-80, 1450, -200, 400, d1zx, d1zy, "#a0a0a0", 1.2, [5, 4]),
    seg(-15, 1450, 495, 625, d1zx, d1zy, "#a0a0a0", 1.2, [5, 4]),
    seg(-185, -775, -185, -975, d1zx, d1zy, "black", 1),
    hrule(-185, -100, -975, d1zx, d1zy, "black", 1),
))
layers.append(txt("200pA", 509, 661, 8.5))
layers.append(txt("100ms", 507, 674, 8.5))
layers.append(alt.Chart(ONE).mark_rule(color="black", strokeWidth=1.6).encode(
    x=alt.value(600 - M), x2=alt.value(617 - M), y=alt.value(666 - M)))
layers.append(alt.Chart(ONE).mark_rule(color=RED, strokeWidth=1.6).encode(
    x=alt.value(600 - M), x2=alt.value(617 - M), y=alt.value(679 - M)))
layers.append(txt("control", 623, 670, 11))
layers.append(txt("1 μM TTX", 623, 683, 11))

# D2
d2x = S([0, 15], [543, 662])
d2y = S([0, 60], [820, 731])
d2c = S([0, 400], [820, 731])
layers.append(carrier(d2x, d2y, AX("bottom", 821, [0, 5, 10, 15], "time (s)"),
                      AX("left", 542, [0, 20, 40, 60], NSE)))
layers.append(alt.layer(
    box(5, 10, 0, TRAIN_TOP["D2"], d2x, d2y, BAND, 0.9),
    bars(0, 0.25, D2_HIST, d2x, d2y, TTXC, "#e25450"),
    *[hrule(a, b, v, d2x, d2y, NAVY, 2.2) for a, b, v in D2_LEVELS],
))
layers.append(line(D2_CUM_T, D2_CUM, d2x, d2c, RED, 1.6, "linear",
                   ay=AX("right", 663, [0, 400], "cum. freq.", tx=672, ty=770)))
layers.append(txt("D2", 492, 718, 15, "bold"))
layers.append(txt("1μM TTX", 537, 718, 12))

chart = alt.layer(*layers).resolve_scale(x="independent", y="independent").properties(
    width=W, height=H, padding=0, autosize=alt.AutoSizeParams(type="none")
).configure_view(stroke=None).configure(font=FONT)

chart.save("out.html", embed_options={"renderer": "svg", "actions": False})
